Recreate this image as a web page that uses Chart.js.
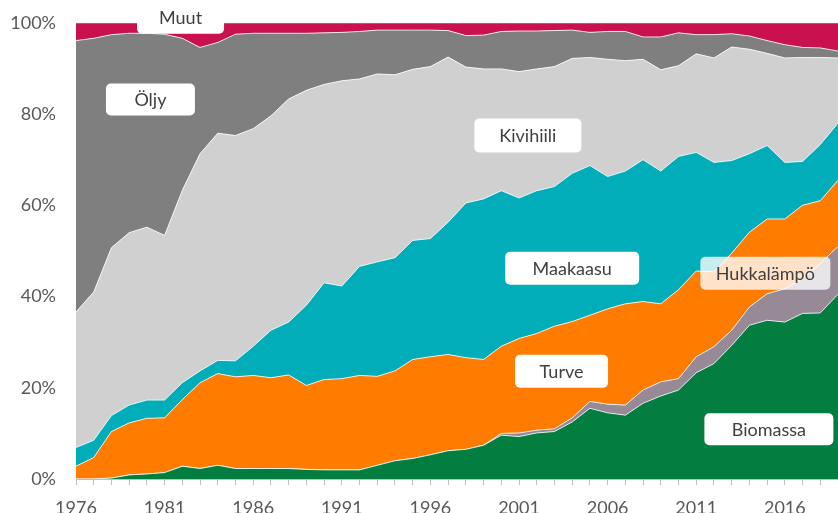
<!DOCTYPE html>
<html>
<head>
<meta charset="utf-8">
<script src="https://cdn.jsdelivr.net/npm/chart.js@4.4.1/dist/chart.umd.min.js"></script>
<style>
  html, body { margin: 0; padding: 0; background: #fff; }
  #wrap { width: 838px; height: 513px; position: relative; }
</style>
</head>
<body>
<div id="wrap"><canvas id="c"></canvas></div>
<script>
// vuodet 1976–2019
const years = [];
for (let y = 1976; y <= 2019; y++) years.push(String(y));

// osuudet (%) kaukolämmön ja siihen liittyvän sähkön tuotannon polttoaineista
const biomassa = [0, 0, 0.2, 0.9, 1.1, 1.4, 2.8, 2.3, 3.0, 2.3, 2.3, 2.3, 2.3, 2.1, 2.0, 2.0, 2.0, 3.0, 4.0, 4.5, 5.3, 6.2, 6.5, 7.4, 9.6, 9.3, 10.1, 10.4, 12.5, 15.5, 14.5, 14.0, 16.6, 18.2, 19.5, 23.3, 25.3, 29.3, 33.7, 34.8, 34.4, 36.3, 36.4, 40.5];
const hukkalampo = [0, 0, 0, 0, 0, 0, 0, 0, 0, 0, 0, 0, 0, 0, 0, 0, 0, 0, 0, 0, 0, 0, 0, 0, 0.4, 0.8, 0.6, 0.6, 0.9, 1.5, 1.9, 2.2, 2.9, 3.1, 2.5, 3.5, 3.7, 3.3, 4.0, 5.8, 7.3, 7.6, 10.8, 10.5];
const turve = [2.8, 4.7, 10.2, 11.4, 12.2, 12.0, 14.6, 18.8, 20.1, 20.1, 20.4, 19.9, 20.5, 18.4, 19.8, 20.0, 20.7, 19.5, 19.7, 21.7, 21.5, 21.1, 20.1, 18.8, 19.1, 20.7, 21.2, 22.5, 21.1, 18.9, 20.9, 22.2, 19.4, 17.1, 19.5, 18.8, 16.4, 16.9, 16.4, 16.4, 15.3, 16.1, 13.8, 14.5];
const maakaasu = [4.1, 3.8, 3.5, 3.9, 4.0, 3.9, 3.7, 2.6, 2.9, 3.5, 6.4, 10.4, 11.6, 17.6, 21.2, 20.3, 23.9, 25.1, 24.8, 26.1, 25.9, 29.0, 33.9, 35.2, 34.1, 30.8, 31.3, 30.6, 32.5, 32.8, 29.0, 29.1, 31.1, 29.1, 29.2, 26.0, 24.0, 20.3, 17.2, 16.1, 12.4, 9.6, 12.3, 12.5];
const kivihiili = [29.7, 32.5, 36.8, 37.8, 37.9, 36.1, 42.2, 47.6, 49.8, 49.4, 47.7, 47.0, 48.9, 47.1, 43.5, 45.0, 41.1, 41.2, 40.1, 37.5, 37.7, 36.2, 29.8, 28.5, 26.7, 27.7, 26.7, 26.3, 25.2, 23.7, 25.7, 24.2, 22.0, 22.2, 19.9, 21.6, 22.9, 24.9, 22.9, 20.2, 22.9, 22.8, 19.1, 14.3];
const oljy = [59.5, 55.6, 46.7, 43.7, 42.5, 44.1, 33.3, 23.3, 19.9, 22.2, 20.9, 18.1, 14.4, 12.5, 11.3, 10.6, 10.4, 9.6, 9.8, 8.6, 8.0, 5.8, 6.9, 7.4, 8.2, 8.9, 8.3, 7.9, 6.2, 5.5, 6.1, 6.4, 4.9, 7.2, 7.2, 4.2, 5.1, 2.9, 2.9, 2.8, 2.9, 2.2, 2.1, 1.5];
const muut = [3.9, 3.4, 2.6, 2.3, 2.3, 2.5, 3.4, 5.4, 4.3, 2.5, 2.3, 2.3, 2.3, 2.3, 2.2, 2.1, 1.9, 1.6, 1.6, 1.6, 1.6, 1.7, 2.8, 2.7, 1.9, 1.8, 1.8, 1.7, 1.6, 2.1, 1.9, 1.9, 3.1, 3.1, 2.2, 2.6, 2.6, 2.4, 2.9, 3.9, 4.8, 5.4, 5.5, 6.2];

const yTicks = [0, 20, 40, 60, 80, 100];

// selitteet kuvan sisällä: paikka vuosi / prosentti
const tags = [
  { text: 'Muut', year: 1981.9, pct: 101.2, w: 87, h: 33, alpha: 1 },
  { text: 'Öljy', year: 1980.2, pct: 83.2, w: 89, h: 32, alpha: 1 },
  { text: 'Kivihiili', year: 2001.5, pct: 75.3, w: 107, h: 34, alpha: 1 },
  { text: 'Maakaasu', year: 2004.0, pct: 46.2, w: 134, h: 33, alpha: 1 },
  { text: 'Turve', year: 2003.4, pct: 23.6, w: 93, h: 33, alpha: 1 },
  { text: 'Hukkalämpö', year: 2014.9, pct: 45.1, w: 130, h: 33, alpha: 0.78 },
  { text: 'Biomassa', year: 2015.1, pct: 10.9, w: 129, h: 32, alpha: 1 }
];

const FONT = 'Lato, "Open Sans", sans-serif';

function series(label, data, color, first) {
  return {
    label: label,
    data: data,
    backgroundColor: color,
    borderColor: 'rgba(255,255,255,0.8)',
    borderWidth: 1,
    pointRadius: 0,
    tension: 0,
    fill: first ? 'origin' : '-1'
  };
}

const tagPlugin = {
  id: 'tags',
  afterDraw(chart) {
    const ctx = chart.ctx;
    const xs = chart.scales.x, ys = chart.scales.y;
    ctx.save();
    ctx.font = '18px ' + FONT;
    ctx.textAlign = 'center';
    ctx.textBaseline = 'middle';
    tags.forEach(t => {
      const cx = xs.getPixelForValue(t.year - 1976);
      const cy = ys.getPixelForValue(t.pct);
      ctx.fillStyle = 'rgba(255,255,255,' + t.alpha + ')';
      ctx.beginPath();
      ctx.roundRect(cx - t.w / 2, cy - t.h / 2, t.w, t.h, 5);
      ctx.fill();
      ctx.fillStyle = '#404040';
      ctx.fillText(t.text, cx, cy + 1);
    });
    ctx.restore();
  }
};

new Chart(document.getElementById('c'), {
  type: 'line',
  data: {
    labels: years,
    datasets: [
      series('Biomassa', biomassa, '#037d40', true),
      series('Hukkalämpö', hukkalampo, '#978996'),
      series('Turve', turve, '#ff7c00'),
      series('Maakaasu', maakaasu, '#02adba'),
      series('Kivihiili', kivihiili, '#d0d0d0'),
      series('Öljy', oljy, '#7f7f7f'),
      series('Muut', muut, '#c9114f')
    ]
  },
  options: {
    responsive: true,
    maintainAspectRatio: false,
    animation: false,
    layout: { padding: { top: 14, right: 0, left: 0, bottom: 0 } },
    plugins: {
      legend: { display: false },
      tooltip: { enabled: false }
    },
    scales: {
      x: {
        offset: false,
        grid: { display: true, drawOnChartArea: false, drawTicks: true, tickLength: 6, color: '#bfbfbf' },
        border: { display: true, color: '#bfbfbf' },
        ticks: {
          autoSkip: false,
          maxRotation: 0,
          color: '#595959',
          font: { family: FONT, size: 18 },
          padding: 12,
          callback: (v, i) => (i % 5 === 0 ? years[i] : '')
        },
        afterFit: s => { s.height = 34; s.paddingRight = 0; s.paddingLeft = 0; }
      },
      y: {
        stacked: true,
        min: 0,
        max: 100,
        afterBuildTicks: s => { s.ticks = yTicks.map(v => ({ value: v })); },
        grid: { display: false },
        border: { display: false },
        ticks: {
          color: '#595959',
          font: { family: FONT, size: 18 },
          padding: 12,
          callback: v => v + '%'
        },
        afterFit: s => { s.width = 76; }
      }
    }
  },
  plugins: [tagPlugin]
});
</script>
</body>
</html>
